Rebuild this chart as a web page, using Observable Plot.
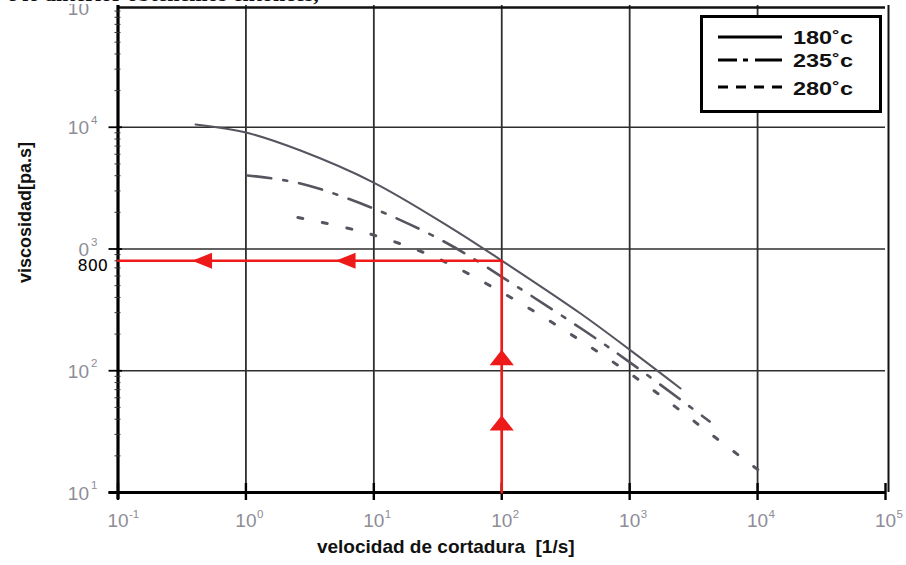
<!DOCTYPE html>
<html>
<head>
<meta charset="utf-8">
<script src="https://cdn.jsdelivr.net/npm/d3@7"></script>
<script src="https://cdn.jsdelivr.net/npm/@observablehq/plot@0.6"></script>
<style>
html,body{margin:0;padding:0;background:#fff;}
#wrap{position:relative;width:906px;height:565px;overflow:hidden;background:#fff;}
#chart{position:absolute;left:0;top:0;}
#band{position:absolute;left:0;top:0;width:412px;height:4px;background:#fff;}
#doctext{position:absolute;left:7px;top:-17px;font:bold 22px/1 "Liberation Serif","Times New Roman",serif;color:#111;white-space:pre;}
#legend{position:absolute;left:700px;top:15px;}
</style>
</head>
<body>
<div id="wrap">
<div id="chart"></div>
<div id="band"></div>
<div id="doctext">e lo anterior obtenemos entonces,</div>
<div id="legend"></div>
</div>
<script>
// ---- data ----
const decadesX = [0.1, 1, 10, 100, 1000, 10000, 100000];
const xBases = ["10", "10", "10", "10", "10", "10", "10"];
const xExponents = ["-1", "0", "1", "2", "3", "4", "5"];
const gridX = [1, 10, 100, 1000, 10000];
const gridY = [100, 1000, 10000];
const decadesY = [10, 100, 1000, 10000];
const yBases = ["10", "10", "0", "10"];
const yExponents = ["1", "2", "3", "4"];
const yTop = [100000];
const yTopBase = ["10"];
const yMinor = [20,30,40,50,60,70,80,90,200,300,400,500,600,700,800,900,2000,3000,4000,5000,6000,7000,8000,9000,20000,30000,40000,50000,60000,70000,80000,90000];

const seriesNames = ["180˚c", "235˚c", "280˚c"];
const x180 = [0.404, 1.0, 2.67, 9.96, 39.8, 99.6, 413, 1016, 2500];
const y180 = [10540, 9060, 6440, 3515, 1500, 805, 295, 147, 71.5];
const x235 = [1.03, 2.67, 9.96, 37.7, 124, 709, 4220];
const y235 = [4020, 3450, 2150, 1110, 511, 152, 38.3];
const x280 = [2.55, 9.08, 31.5, 107, 378, 1330, 4450, 10200];
const y280 = [1815, 1340, 836, 423, 188, 77, 29.4, 15.2];

const markValue = [800];
const markLabel = ["800"];
const redX = [0.1, 100, 100];
const redY = [800, 800, 10];
const arrowHX = [0.454, 6.01];
const arrowHY = [800, 800];
const arrowVX = [100, 100];
const arrowVY = [128.5, 37.3];

const xTitle = ["velocidad de cortadura  [1/s]"];
const yTitle = ["viscosidad[pa.s]"];

// ---- tables ----
const toRows = (xs, ys) => xs.map((x, i) => ({x, y: ys[i]}));
const t180 = toRows(x180, y180);
const t235 = toRows(x235, y235);
const t280 = toRows(x280, y280);
const redPath = toRows(redX, redY);
const arrowsH = toRows(arrowHX, arrowHY);
const arrowsV = toRows(arrowVX, arrowVY);

const red = "#ee1a1a";
const curveColor = "#55555f";
const labelGray = "#8d8d97";
const sans = "'Liberation Sans', Arial, sans-serif";

const arrowLeft = {draw(ctx, size) {
  const r = Math.sqrt(size / Math.PI);
  ctx.moveTo(-r, 0); ctx.lineTo(r, -0.8 * r); ctx.lineTo(r, 0.8 * r); ctx.closePath();
}};
const arrowUp = {draw(ctx, size) {
  const r = Math.sqrt(size / Math.PI);
  ctx.moveTo(0, -0.7 * r); ctx.lineTo(1.1 * r, 0.7 * r); ctx.lineTo(-1.1 * r, 0.7 * r); ctx.closePath();
}};

const chart = Plot.plot({
  width: 906,
  height: 565,
  marginLeft: 117.5,
  marginRight: 21,
  marginTop: 5,
  marginBottom: 73,
  style: {fontFamily: sans, background: "transparent"},
  x: {type: "log", domain: [0.1, 100000], axis: null},
  y: {type: "log", domain: [10, 100000], axis: null},
  marks: [
    Plot.ruleX(gridX, {x: d => d, stroke: "#2e2e2e", strokeWidth: 1.8}),
    Plot.ruleY(gridY, {y: d => d, stroke: "#2e2e2e", strokeWidth: 1.5}),
    Plot.ruleY(yTop, {y: d => d, stroke: "#111", strokeWidth: 2.6, dy: 2}),
    Plot.ruleX([100000], {x: d => d, stroke: "#111", strokeWidth: 2, dx: 3}),
    Plot.ruleX([0.1], {x: d => d, stroke: "#000", strokeWidth: 3.2, insetBottom: -7}),
    Plot.ruleY([10], {y: d => d, stroke: "#000", strokeWidth: 3, insetLeft: -9}),
    Plot.tickX(decadesX, {x: d => d, stroke: "#000", strokeWidth: 2.4, insetTop: 478, insetBottom: -8}),
    Plot.tickY(decadesY, {y: d => d, stroke: "#000", strokeWidth: 1.8, insetLeft: -9, insetRight: 763}),
    Plot.tickY(yMinor, {y: d => d, stroke: "#333", strokeWidth: 1, insetLeft: -3, insetRight: 764.5}),
    // curves
    Plot.line(t280, {x: "x", y: "y", curve: "catmull-rom", stroke: curveColor, strokeWidth: 3, strokeDasharray: "5,20"}),
    Plot.line(t235, {x: "x", y: "y", curve: "catmull-rom", stroke: curveColor, strokeWidth: 2.6, strokeDasharray: "24,12,4,12"}),
    Plot.line(t180, {x: "x", y: "y", curve: "catmull-rom", stroke: curveColor, strokeWidth: 2}),
    // red reading path
    Plot.line(redPath, {x: "x", y: "y", stroke: red, strokeWidth: 2.6}),
    Plot.dot(arrowsH, {x: "x", y: "y", r: 10, symbol: arrowLeft, fill: red, stroke: "none"}),
    Plot.dot(arrowsV, {x: "x", y: "y", r: 11, symbol: arrowUp, fill: red, stroke: "none"}),
    // tick labels x
    Plot.text(decadesX, {x: d => d, text: xBases, frameAnchor: "bottom", dy: 34, fontSize: 19, fill: labelGray}),
    Plot.text(decadesX, {x: d => d, text: xExponents, frameAnchor: "bottom", dx: 11, dy: 25, fontSize: 11.5, textAnchor: "start", fill: labelGray}),
    // tick labels y
    Plot.text(decadesY, {y: d => d, text: yBases, frameAnchor: "left", dx: -29, dy: 1, fontSize: 19, textAnchor: "end", fill: labelGray}),
    Plot.text(decadesY, {y: d => d, text: yExponents, frameAnchor: "left", dx: -27, dy: -7, fontSize: 11.5, textAnchor: "start", fill: labelGray}),
    Plot.text(yTop, {y: d => d, text: yTopBase, frameAnchor: "left", dx: -29, dy: 3, fontSize: 19, textAnchor: "end", fill: labelGray}),
    Plot.text(markValue, {y: d => d, text: markLabel, frameAnchor: "left", dx: -10, dy: 5, fontSize: 16, textAnchor: "end", fill: "#000", fontFamily: "'DejaVu Sans', sans-serif", ariaLabel: "marklabel"}),
    // titles
    Plot.text(xTitle, {text: d => d, frameAnchor: "bottom", dx: -56, dy: 60, fontSize: 19, fontWeight: "bold", fill: "#111", ariaLabel: "xtitle"}),
    Plot.text(yTitle, {text: d => d, frameAnchor: "left", rotate: -90, dx: -93, dy: 34, fontSize: 18, fontWeight: "bold", fill: "#111", fontFamily: "'Liberation Sans Narrow', 'Liberation Sans', sans-serif", ariaLabel: "ytitle"})
  ]
});
document.getElementById("chart").appendChild(chart);

const svgSel = d3.select(chart);
svgSel.select('g[aria-label="xtitle"] text').attr("textLength", 336).attr("lengthAdjust", "spacingAndGlyphs").style("white-space", "pre");
svgSel.select('g[aria-label="ytitle"] text').attr("textLength", 100).attr("lengthAdjust", "spacingAndGlyphs");
svgSel.select('g[aria-label="marklabel"] text').attr("textLength", 42).attr("lengthAdjust", "spacingAndGlyphs");

// ---- legend (box drawn outside the plot area) ----
const lg = d3.select("#legend").append("svg").attr("width", 184).attr("height", 100);
lg.append("rect").attr("x", 1.5).attr("y", 1.5).attr("width", 179).attr("height", 95)
  .attr("fill", "#fff").attr("stroke", "#000").attr("stroke-width", 3);
const legendDash = [null, "19,6,5,7,30", "10,8"];
const legendWidth = [3, 3, 3];
const legendRowY = [22, 45, 72];
seriesNames.forEach((name, i) => {
  const ln = lg.append("line").attr("x1", 18).attr("x2", 82).attr("y1", legendRowY[i]).attr("y2", legendRowY[i])
    .attr("stroke", "#000").attr("stroke-width", legendWidth[i]);
  if (legendDash[i]) ln.attr("stroke-dasharray", legendDash[i]);
  lg.append("text").attr("x", 93).attr("y", legendRowY[i] + 7 + (i === 2 ? 1 : 0))
    .attr("font-family", sans).attr("font-weight", "bold").attr("font-size", 18)
    .attr("fill", "#111").attr("textLength", 60).attr("lengthAdjust", "spacingAndGlyphs").text(name);
});
</script>
</body>
</html>
